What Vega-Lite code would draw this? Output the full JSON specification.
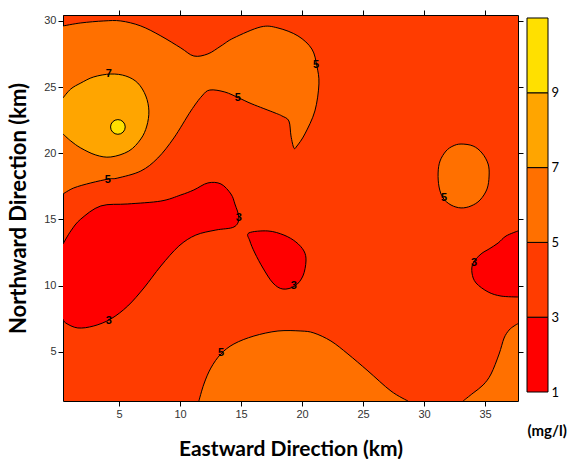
{
  "$schema": "https://vega.github.io/schema/vega-lite/v6.json",
  "padding": {"left": 7, "top": 9, "right": 0, "bottom": 0},
  "spacing": 2,
  "datasets": {
    "contours": [
      {"id": "A", "grp": "edge1", "cls": "5-7", "i": 0, "x": 0.4, "y": 29.62},
      {"id": "A", "grp": "edge1", "cls": "5-7", "i": 1, "x": 1.86, "y": 29.85},
      {"id": "A", "grp": "edge1", "cls": "5-7", "i": 2, "x": 3.74, "y": 30.0},
      {"id": "A", "grp": "edge1", "cls": "5-7", "i": 3, "x": 5.14, "y": 30.0},
      {"id": "A", "grp": "edge1", "cls": "5-7", "i": 4, "x": 6.78, "y": 29.62},
      {"id": "A", "grp": "edge1", "cls": "5-7", "i": 5, "x": 8.42, "y": 28.87},
      {"id": "A", "grp": "edge1", "cls": "5-7", "i": 6, "x": 10.06, "y": 27.96},
      {"id": "A", "grp": "edge1", "cls": "5-7", "i": 7, "x": 11.13, "y": 27.35},
      {"id": "A", "grp": "edge1", "cls": "5-7", "i": 8, "x": 12.28, "y": 27.51},
      {"id": "A", "grp": "edge1", "cls": "5-7", "i": 9, "x": 13.35, "y": 28.11},
      {"id": "A", "grp": "edge1", "cls": "5-7", "i": 10, "x": 14.41, "y": 28.72},
      {"id": "A", "grp": "edge1", "cls": "5-7", "i": 11, "x": 16.62, "y": 29.55},
      {"id": "A", "grp": "edge1", "cls": "5-7", "i": 12, "x": 18.02, "y": 29.47},
      {"id": "A", "grp": "edge1", "cls": "5-7", "i": 13, "x": 19.66, "y": 28.87},
      {"id": "A", "grp": "edge1", "cls": "5-7", "i": 14, "x": 20.8, "y": 27.88},
      {"id": "A", "grp": "edge1", "cls": "5-7", "i": 15, "x": 21.21, "y": 26.6},
      {"id": "A", "grp": "edge1", "cls": "5-7", "i": 16, "x": 21.38, "y": 25.24},
      {"id": "A", "grp": "edge1", "cls": "5-7", "i": 17, "x": 21.05, "y": 23.2},
      {"id": "A", "grp": "edge1", "cls": "5-7", "i": 18, "x": 20.23, "y": 21.46},
      {"id": "A", "grp": "edge1", "cls": "5-7", "i": 19, "x": 19.58, "y": 20.55},
      {"id": "A", "grp": "edge1", "cls": "5-7", "i": 20, "x": 19.33, "y": 20.4},
      {"id": "A", "grp": "edge1", "cls": "5-7", "i": 21, "x": 19.09, "y": 21.31},
      {"id": "A", "grp": "edge1", "cls": "5-7", "i": 22, "x": 18.92, "y": 22.44},
      {"id": "A", "grp": "edge1", "cls": "5-7", "i": 23, "x": 18.35, "y": 22.82},
      {"id": "A", "grp": "edge1", "cls": "5-7", "i": 24, "x": 17.78, "y": 23.05},
      {"id": "A", "grp": "edge1", "cls": "5-7", "i": 25, "x": 15.89, "y": 23.73},
      {"id": "A", "grp": "edge1", "cls": "5-7", "i": 26, "x": 14.82, "y": 24.18},
      {"id": "A", "grp": "edge1", "cls": "5-7", "i": 27, "x": 13.67, "y": 24.63},
      {"id": "A", "grp": "edge1", "cls": "5-7", "i": 28, "x": 12.44, "y": 24.78},
      {"id": "A", "grp": "edge1", "cls": "5-7", "i": 29, "x": 11.79, "y": 24.33},
      {"id": "A", "grp": "edge1", "cls": "5-7", "i": 30, "x": 10.88, "y": 23.2},
      {"id": "A", "grp": "edge1", "cls": "5-7", "i": 31, "x": 9.49, "y": 21.16},
      {"id": "A", "grp": "edge1", "cls": "5-7", "i": 32, "x": 8.17, "y": 19.64},
      {"id": "A", "grp": "edge1", "cls": "5-7", "i": 33, "x": 6.78, "y": 18.66},
      {"id": "A", "grp": "edge1", "cls": "5-7", "i": 34, "x": 4.89, "y": 18.13},
      {"id": "A", "grp": "edge1", "cls": "5-7", "i": 35, "x": 4.16, "y": 18.06},
      {"id": "A", "grp": "edge1", "cls": "5-7", "i": 36, "x": 2.68, "y": 17.76},
      {"id": "A", "grp": "edge1", "cls": "5-7", "i": 37, "x": 1.28, "y": 17.38},
      {"id": "A", "grp": "edge1", "cls": "5-7", "i": 38, "x": 0.4, "y": 16.92},

      {"id": "C", "grp": "edge1", "cls": "5-7", "i": 0, "x": 11.54, "y": 1.28},
      {"id": "C", "grp": "edge1", "cls": "5-7", "i": 1, "x": 11.95, "y": 2.56},
      {"id": "C", "grp": "edge1", "cls": "5-7", "i": 2, "x": 12.52, "y": 3.77},
      {"id": "C", "grp": "edge1", "cls": "5-7", "i": 3, "x": 13.34, "y": 4.83},
      {"id": "C", "grp": "edge1", "cls": "5-7", "i": 4, "x": 14.41, "y": 5.59},
      {"id": "C", "grp": "edge1", "cls": "5-7", "i": 5, "x": 16.05, "y": 6.19},
      {"id": "C", "grp": "edge1", "cls": "5-7", "i": 6, "x": 18.02, "y": 6.57},
      {"id": "C", "grp": "edge1", "cls": "5-7", "i": 7, "x": 19.9, "y": 6.57},
      {"id": "C", "grp": "edge1", "cls": "5-7", "i": 8, "x": 20.97, "y": 6.42},
      {"id": "C", "grp": "edge1", "cls": "5-7", "i": 9, "x": 22.37, "y": 5.81},
      {"id": "C", "grp": "edge1", "cls": "5-7", "i": 10, "x": 23.76, "y": 4.83},
      {"id": "C", "grp": "edge1", "cls": "5-7", "i": 11, "x": 25.4, "y": 3.55},
      {"id": "C", "grp": "edge1", "cls": "5-7", "i": 12, "x": 27.29, "y": 2.03},
      {"id": "C", "grp": "edge1", "cls": "5-7", "i": 13, "x": 28.68, "y": 1.28},

      {"id": "C2", "grp": "edge1", "cls": "5-7", "i": 0, "x": 33.2, "y": 1.28},
      {"id": "C2", "grp": "edge1", "cls": "5-7", "i": 1, "x": 34.02, "y": 1.88},
      {"id": "C2", "grp": "edge1", "cls": "5-7", "i": 2, "x": 34.84, "y": 2.49},
      {"id": "C2", "grp": "edge1", "cls": "5-7", "i": 3, "x": 35.49, "y": 3.32},
      {"id": "C2", "grp": "edge1", "cls": "5-7", "i": 4, "x": 36.15, "y": 4.83},
      {"id": "C2", "grp": "edge1", "cls": "5-7", "i": 5, "x": 36.56, "y": 6.04},
      {"id": "C2", "grp": "edge1", "cls": "5-7", "i": 6, "x": 36.97, "y": 6.64},
      {"id": "C2", "grp": "edge1", "cls": "5-7", "i": 7, "x": 37.38, "y": 6.95},
      {"id": "C2", "grp": "edge1", "cls": "5-7", "i": 8, "x": 37.8, "y": 7.15},
      {"id": "C2", "grp": "edge1", "cls": "5-7", "i": 9, "x": 38.6, "y": 7.3},
      {"id": "C2", "grp": "edge1", "cls": "5-7", "i": 10, "x": 38.6, "y": 0.5},

      {"id": "D", "grp": "edge1", "cls": "1-3", "i": 0, "x": 0.4, "y": 13.14},
      {"id": "D", "grp": "edge1", "cls": "1-3", "i": 1, "x": 1.04, "y": 14.13},
      {"id": "D", "grp": "edge1", "cls": "1-3", "i": 2, "x": 1.86, "y": 15.03},
      {"id": "D", "grp": "edge1", "cls": "1-3", "i": 3, "x": 3.5, "y": 16.02},
      {"id": "D", "grp": "edge1", "cls": "1-3", "i": 4, "x": 5.71, "y": 16.17},
      {"id": "D", "grp": "edge1", "cls": "1-3", "i": 5, "x": 8.42, "y": 16.39},
      {"id": "D", "grp": "edge1", "cls": "1-3", "i": 6, "x": 10.06, "y": 16.85},
      {"id": "D", "grp": "edge1", "cls": "1-3", "i": 7, "x": 11.13, "y": 17.23},
      {"id": "D", "grp": "edge1", "cls": "1-3", "i": 8, "x": 12.28, "y": 17.76},
      {"id": "D", "grp": "edge1", "cls": "1-3", "i": 9, "x": 13.35, "y": 17.68},
      {"id": "D", "grp": "edge1", "cls": "1-3", "i": 10, "x": 14.17, "y": 16.92},
      {"id": "D", "grp": "edge1", "cls": "1-3", "i": 11, "x": 14.49, "y": 16.17},
      {"id": "D", "grp": "edge1", "cls": "1-3", "i": 12, "x": 14.82, "y": 15.11},
      {"id": "D", "grp": "edge1", "cls": "1-3", "i": 13, "x": 14.41, "y": 14.43},
      {"id": "D", "grp": "edge1", "cls": "1-3", "i": 14, "x": 12.93, "y": 14.2},
      {"id": "D", "grp": "edge1", "cls": "1-3", "i": 15, "x": 11.29, "y": 13.82},
      {"id": "D", "grp": "edge1", "cls": "1-3", "i": 16, "x": 9.9, "y": 12.99},
      {"id": "D", "grp": "edge1", "cls": "1-3", "i": 17, "x": 8.42, "y": 11.48},
      {"id": "D", "grp": "edge1", "cls": "1-3", "i": 18, "x": 7.03, "y": 9.82},
      {"id": "D", "grp": "edge1", "cls": "1-3", "i": 19, "x": 5.71, "y": 8.46},
      {"id": "D", "grp": "edge1", "cls": "1-3", "i": 20, "x": 4.32, "y": 7.48},
      {"id": "D", "grp": "edge1", "cls": "1-3", "i": 21, "x": 2.92, "y": 6.95},
      {"id": "D", "grp": "edge1", "cls": "1-3", "i": 22, "x": 1.61, "y": 6.8},
      {"id": "D", "grp": "edge1", "cls": "1-3", "i": 23, "x": 0.63, "y": 7.17},
      {"id": "D", "grp": "edge1", "cls": "1-3", "i": 24, "x": 0.4, "y": 7.48},

      {"id": "F", "grp": "edge1", "cls": "1-3", "i": 0, "x": 37.7, "y": 14.13},
      {"id": "F", "grp": "edge1", "cls": "1-3", "i": 1, "x": 36.72, "y": 13.75},
      {"id": "F", "grp": "edge1", "cls": "1-3", "i": 2, "x": 36.07, "y": 13.22},
      {"id": "F", "grp": "edge1", "cls": "1-3", "i": 3, "x": 35.33, "y": 12.77},
      {"id": "F", "grp": "edge1", "cls": "1-3", "i": 4, "x": 34.67, "y": 12.39},
      {"id": "F", "grp": "edge1", "cls": "1-3", "i": 5, "x": 34.02, "y": 11.71},
      {"id": "F", "grp": "edge1", "cls": "1-3", "i": 6, "x": 33.93, "y": 10.95},
      {"id": "F", "grp": "edge1", "cls": "1-3", "i": 7, "x": 34.26, "y": 10.2},
      {"id": "F", "grp": "edge1", "cls": "1-3", "i": 8, "x": 35.25, "y": 9.52},
      {"id": "F", "grp": "edge1", "cls": "1-3", "i": 9, "x": 36.31, "y": 9.21},
      {"id": "F", "grp": "edge1", "cls": "1-3", "i": 10, "x": 37.7, "y": 9.14},

      {"id": "M", "grp": "edge2", "cls": "7-9", "i": 0, "x": 0.4, "y": 24.18},
      {"id": "M", "grp": "edge2", "cls": "7-9", "i": 1, "x": 1.04, "y": 24.86},
      {"id": "M", "grp": "edge2", "cls": "7-9", "i": 2, "x": 1.86, "y": 25.31},
      {"id": "M", "grp": "edge2", "cls": "7-9", "i": 3, "x": 2.92, "y": 25.77},
      {"id": "M", "grp": "edge2", "cls": "7-9", "i": 4, "x": 4.32, "y": 25.99},
      {"id": "M", "grp": "edge2", "cls": "7-9", "i": 5, "x": 5.55, "y": 25.84},
      {"id": "M", "grp": "edge2", "cls": "7-9", "i": 6, "x": 6.53, "y": 25.31},
      {"id": "M", "grp": "edge2", "cls": "7-9", "i": 7, "x": 7.19, "y": 24.33},
      {"id": "M", "grp": "edge2", "cls": "7-9", "i": 8, "x": 7.44, "y": 23.2},
      {"id": "M", "grp": "edge2", "cls": "7-9", "i": 9, "x": 7.27, "y": 22.06},
      {"id": "M", "grp": "edge2", "cls": "7-9", "i": 10, "x": 6.78, "y": 21.08},
      {"id": "M", "grp": "edge2", "cls": "7-9", "i": 11, "x": 5.8, "y": 20.17},
      {"id": "M", "grp": "edge2", "cls": "7-9", "i": 12, "x": 4.32, "y": 19.72},
      {"id": "M", "grp": "edge2", "cls": "7-9", "i": 13, "x": 3.09, "y": 19.87},
      {"id": "M", "grp": "edge2", "cls": "7-9", "i": 14, "x": 1.86, "y": 20.4},
      {"id": "M", "grp": "edge2", "cls": "7-9", "i": 15, "x": 1.04, "y": 20.93},
      {"id": "M", "grp": "edge2", "cls": "7-9", "i": 16, "x": 0.4, "y": 21.46},

      {"id": "B", "grp": "closed", "cls": "5-7", "i": 0, "x": 33.03, "y": 20.7},
      {"id": "B", "grp": "closed", "cls": "5-7", "i": 1, "x": 34.02, "y": 20.55},
      {"id": "B", "grp": "closed", "cls": "5-7", "i": 2, "x": 34.75, "y": 20.02},
      {"id": "B", "grp": "closed", "cls": "5-7", "i": 3, "x": 35.25, "y": 19.19},
      {"id": "B", "grp": "closed", "cls": "5-7", "i": 4, "x": 35.33, "y": 18.28},
      {"id": "B", "grp": "closed", "cls": "5-7", "i": 5, "x": 35.16, "y": 17.3},
      {"id": "B", "grp": "closed", "cls": "5-7", "i": 6, "x": 34.59, "y": 16.47},
      {"id": "B", "grp": "closed", "cls": "5-7", "i": 7, "x": 33.85, "y": 16.02},
      {"id": "B", "grp": "closed", "cls": "5-7", "i": 8, "x": 33.03, "y": 15.87},
      {"id": "B", "grp": "closed", "cls": "5-7", "i": 9, "x": 32.21, "y": 16.09},
      {"id": "B", "grp": "closed", "cls": "5-7", "i": 10, "x": 31.56, "y": 16.62},
      {"id": "B", "grp": "closed", "cls": "5-7", "i": 11, "x": 31.23, "y": 17.45},
      {"id": "B", "grp": "closed", "cls": "5-7", "i": 12, "x": 31.15, "y": 18.51},
      {"id": "B", "grp": "closed", "cls": "5-7", "i": 13, "x": 31.31, "y": 19.42},
      {"id": "B", "grp": "closed", "cls": "5-7", "i": 14, "x": 31.8, "y": 20.17},
      {"id": "B", "grp": "closed", "cls": "5-7", "i": 15, "x": 32.37, "y": 20.55},

      {"id": "E", "grp": "closed", "cls": "1-3", "i": 0, "x": 15.64, "y": 13.98},
      {"id": "E", "grp": "closed", "cls": "1-3", "i": 1, "x": 17.2, "y": 14.13},
      {"id": "E", "grp": "closed", "cls": "1-3", "i": 2, "x": 18.51, "y": 13.82},
      {"id": "E", "grp": "closed", "cls": "1-3", "i": 3, "x": 19.49, "y": 13.3},
      {"id": "E", "grp": "closed", "cls": "1-3", "i": 4, "x": 20.15, "y": 12.62},
      {"id": "E", "grp": "closed", "cls": "1-3", "i": 5, "x": 20.32, "y": 11.86},
      {"id": "E", "grp": "closed", "cls": "1-3", "i": 6, "x": 20.07, "y": 10.73},
      {"id": "E", "grp": "closed", "cls": "1-3", "i": 7, "x": 19.41, "y": 9.97},
      {"id": "E", "grp": "closed", "cls": "1-3", "i": 8, "x": 18.43, "y": 9.74},
      {"id": "E", "grp": "closed", "cls": "1-3", "i": 9, "x": 17.61, "y": 10.2},
      {"id": "E", "grp": "closed", "cls": "1-3", "i": 10, "x": 16.79, "y": 11.33},
      {"id": "E", "grp": "closed", "cls": "1-3", "i": 11, "x": 16.13, "y": 12.46},
      {"id": "E", "grp": "closed", "cls": "1-3", "i": 12, "x": 15.72, "y": 13.37}
    ],
    "peaks": [
      {"x": 4.9, "y": 21.99, "cls": "9-11"}
    ],
    "labels": [
      {"x": 4.16, "y": 25.99, "label": "7"},
      {"x": 4.08, "y": 17.98, "label": "5"},
      {"x": 14.74, "y": 24.18, "label": "5"},
      {"x": 21.14, "y": 26.67, "label": "5"},
      {"x": 14.82, "y": 15.11, "label": "3"},
      {"x": 4.16, "y": 7.32, "label": "3"},
      {"x": 19.33, "y": 9.97, "label": "3"},
      {"x": 13.35, "y": 4.91, "label": "5"},
      {"x": 31.64, "y": 16.62, "label": "5"},
      {"x": 34.1, "y": 11.71, "label": "3"}
    ],
    "bar": [
      {"lo": 1, "hi": 3, "cls": "1-3"},
      {"lo": 3, "hi": 5, "cls": "3-5"},
      {"lo": 5, "hi": 7, "cls": "5-7"},
      {"lo": 7, "hi": 9, "cls": "7-9"},
      {"lo": 9, "hi": 11, "cls": "9-11"}
    ]
  },
  "hconcat": [
    {
      "width": 455,
      "height": 386,
      "view": {"fill": "#FF3C00", "stroke": null},
      "resolve": {"axis": {"x": "independent", "y": "independent"}},
      "layer": [
        {
          "data": {"name": "contours"},
          "transform": [{"filter": "datum.grp == 'edge1'"}],
          "mark": {"type": "line", "interpolate": "cardinal", "stroke": "black", "strokeWidth": 1, "clip": true},
          "encoding": {
            "x": {"field": "x", "type": "quantitative", "scale": {"domain": [0.4, 37.7], "nice": false, "zero": false},
                  "axis": {"orient": "bottom", "values": [5, 10, 15, 20, 25, 30, 35], "title": "Eastward Direction (km)", "titlePadding": 19, "titleFontSize": 21}},
            "y": {"field": "y", "type": "quantitative", "scale": {"domain": [1.28, 30.45], "nice": false, "zero": false},
                  "axis": {"orient": "left", "values": [5, 10, 15, 20, 25, 30], "title": "Northward Direction (km)", "titlePadding": 13, "titleFontSize": 22}},
            "fill": {"field": "cls", "type": "nominal", "scale": {"domain": ["1-3", "3-5", "5-7", "7-9", "9-11"], "range": ["#FF0000", "#FF3C00", "#FF7000", "#FFA500", "#FFE000"]}, "legend": null},
            "detail": {"field": "id"},
            "order": {"field": "i", "type": "quantitative"}
          }
        },
        {
          "data": {"name": "contours"},
          "transform": [{"filter": "datum.grp == 'edge2'"}],
          "mark": {"type": "line", "interpolate": "cardinal", "stroke": "black", "strokeWidth": 1, "clip": true},
          "encoding": {
            "x": {"field": "x", "type": "quantitative", "scale": {"domain": [0.4, 37.7], "nice": false, "zero": false},
                  "axis": {"orient": "top", "values": [5, 10, 15, 20, 25, 30, 35], "labels": false, "title": null}},
            "y": {"field": "y", "type": "quantitative", "scale": {"domain": [1.28, 30.45], "nice": false, "zero": false},
                  "axis": {"orient": "right", "values": [5, 10, 15, 20, 25, 30], "labels": false, "title": null}},
            "fill": {"field": "cls", "type": "nominal", "legend": null},
            "detail": {"field": "id"},
            "order": {"field": "i", "type": "quantitative"}
          }
        },
        {
          "data": {"name": "contours"},
          "transform": [{"filter": "datum.grp == 'closed'"}],
          "mark": {"type": "line", "interpolate": "cardinal-closed", "stroke": "black", "strokeWidth": 1, "clip": true},
          "encoding": {
            "x": {"field": "x", "type": "quantitative", "axis": null},
            "y": {"field": "y", "type": "quantitative", "axis": null},
            "fill": {"field": "cls", "type": "nominal", "legend": null},
            "detail": {"field": "id"},
            "order": {"field": "i", "type": "quantitative"}
          }
        },
        {
          "data": {"name": "peaks"},
          "mark": {"type": "point", "shape": "circle", "filled": true, "size": 215, "stroke": "black", "strokeWidth": 1, "opacity": 1},
          "encoding": {
            "x": {"field": "x", "type": "quantitative", "axis": null},
            "y": {"field": "y", "type": "quantitative", "axis": null},
            "fill": {"field": "cls", "type": "nominal", "legend": null}
          }
        },
        {
          "data": {"name": "labels"},
          "mark": {"type": "text", "font": "Liberation Sans", "fontSize": 11, "fontWeight": "bold", "color": "black"},
          "encoding": {
            "x": {"field": "x", "type": "quantitative", "axis": null},
            "y": {"field": "y", "type": "quantitative", "axis": null},
            "text": {"field": "label"}
          }
        }
      ]
    },
    {
      "width": 21,
      "height": 377,
      "view": {"stroke": null},
      "data": {"name": "bar"},
      "mark": {"type": "rect", "stroke": "black", "strokeWidth": 1},
      "encoding": {
        "y": {"field": "lo", "type": "quantitative", "scale": {"domain": [1, 11.08], "nice": false, "zero": false},
              "axis": {"orient": "right", "values": [1, 3, 5, 7, 9], "domain": false, "ticks": false, "labelPadding": 3, "labelFont": "Lato", "labelFontSize": 13, "labelColor": "black", "title": null}},
        "y2": {"field": "hi"},
        "fill": {"field": "cls", "type": "nominal", "scale": {"domain": ["1-3", "3-5", "5-7", "7-9", "9-11"], "range": ["#FF0000", "#FF3C00", "#FF7000", "#FFA500", "#FFE000"]}, "legend": null}
      },
      "title": {"text": "(mg/l)", "orient": "bottom", "anchor": "start", "font": "Lato", "fontSize": 15, "fontWeight": "bold", "color": "black", "offset": 25, "dx": 1}
    }
  ],
  "config": {
    "axis": {
      "grid": false,
      "domainColor": "black",
      "tickColor": "black",
      "tickSize": 5,
      "labelPadding": 2,
      "labelFont": "Liberation Sans",
      "labelFontSize": 11,
      "labelColor": "#333333",
      "titleFont": "Lato",
      "titleFontSize": 19,
      "titleFontWeight": "bold",
      "titleColor": "black",
      "zindex": 1
    }
  }
}
